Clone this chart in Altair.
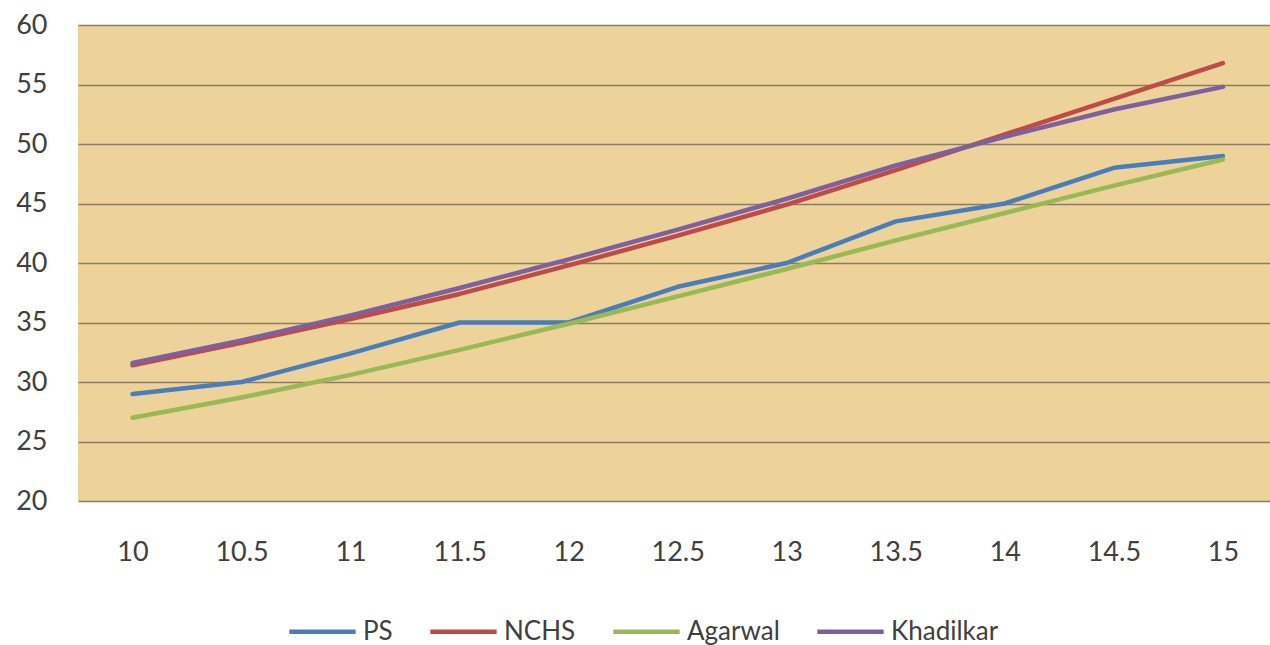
import altair as alt
import pandas as pd

# Age (years) on the category axis
age = [10, 10.5, 11, 11.5, 12, 12.5, 13, 13.5, 14, 14.5, 15]

# Weight-for-age reference series
ps = [29.0, 30.0, 32.4, 35.0, 35.0, 38.0, 40.0, 43.5, 45.0, 48.0, 49.0]
nchs = [31.4, 33.3, 35.3, 37.4, 39.8, 42.3, 44.9, 47.8, 50.8, 53.8, 56.8]
agarwal = [27.0, 28.7, 30.6, 32.7, 34.9, 37.2, 39.5, 41.9, 44.2, 46.5, 48.7]
khadilkar = [31.6, 33.5, 35.6, 37.9, 40.3, 42.8, 45.4, 48.2, 50.6, 52.9, 54.8]

series_names = ["PS", "NCHS", "Agarwal", "Khadilkar"]
series_colors = ["#4A7EBB", "#BE4B48", "#98B954", "#7D60A0"]

y_ticks = [20, 25, 30, 35, 40, 45, 50, 55, 60]

rows = []
for order, (name, vals) in enumerate(zip(series_names, [ps, nchs, agarwal, khadilkar])):
    for a, v in zip(age, vals):
        rows.append({"age": a, "value": v, "series": name, "order": order})
df = pd.DataFrame(rows)

FONT = "Lato"
TEXT = "#404040"

chart = (
    alt.Chart(df)
    .mark_line(strokeWidth=4.5, strokeCap="round", strokeJoin="round")
    .encode(
        x=alt.X(
            "age:Q",
            scale=alt.Scale(domain=[9.75, 15.216], nice=False, zero=False),
            axis=alt.Axis(
                values=age,
                format="~g",
                title=None,
                grid=False,
                ticks=False,
                domain=False,
                labelPadding=38,
                labelFontSize=27,
                labelFont=FONT,
                labelColor=TEXT,
                labelFlush=False,
            ),
        ),
        y=alt.Y(
            "value:Q",
            scale=alt.Scale(domain=[20, 60], nice=False, zero=False),
            axis=alt.Axis(
                values=y_ticks,
                title=None,
                grid=True,
                gridColor="#8B7D62",
                gridWidth=1.3,
                gridOpacity=1,
                ticks=False,
                domain=False,
                labelPadding=31,
                labelFontSize=27,
                labelFont=FONT,
                labelColor=TEXT,
                labelFlush=False,
            ),
        ),
        color=alt.Color(
            "series:N",
            scale=alt.Scale(domain=series_names, range=series_colors),
            legend=alt.Legend(
                orient="none",
                legendX=209,
                legendY=571,
                direction="horizontal",
                title=None,
                symbolType="stroke",
                symbolSize=4400,
                symbolStrokeWidth=4.5,
                labelFontSize=26,
                labelFont=FONT,
                labelColor=TEXT,
                labelOffset=5,
                columnPadding=28,
            ),
        ),
        order=alt.Order("order:Q"),
    )
    .properties(
        width=1192,
        height=476,
        autosize=alt.AutoSizeParams(type="none"),
        padding={"left": 78, "top": 25, "right": 0, "bottom": 144},
        background="white",
    )
    .configure_view(fill="#EDD29A", stroke=None)
)

chart.save("out.html", embed_options={"renderer": "svg", "actions": False})
